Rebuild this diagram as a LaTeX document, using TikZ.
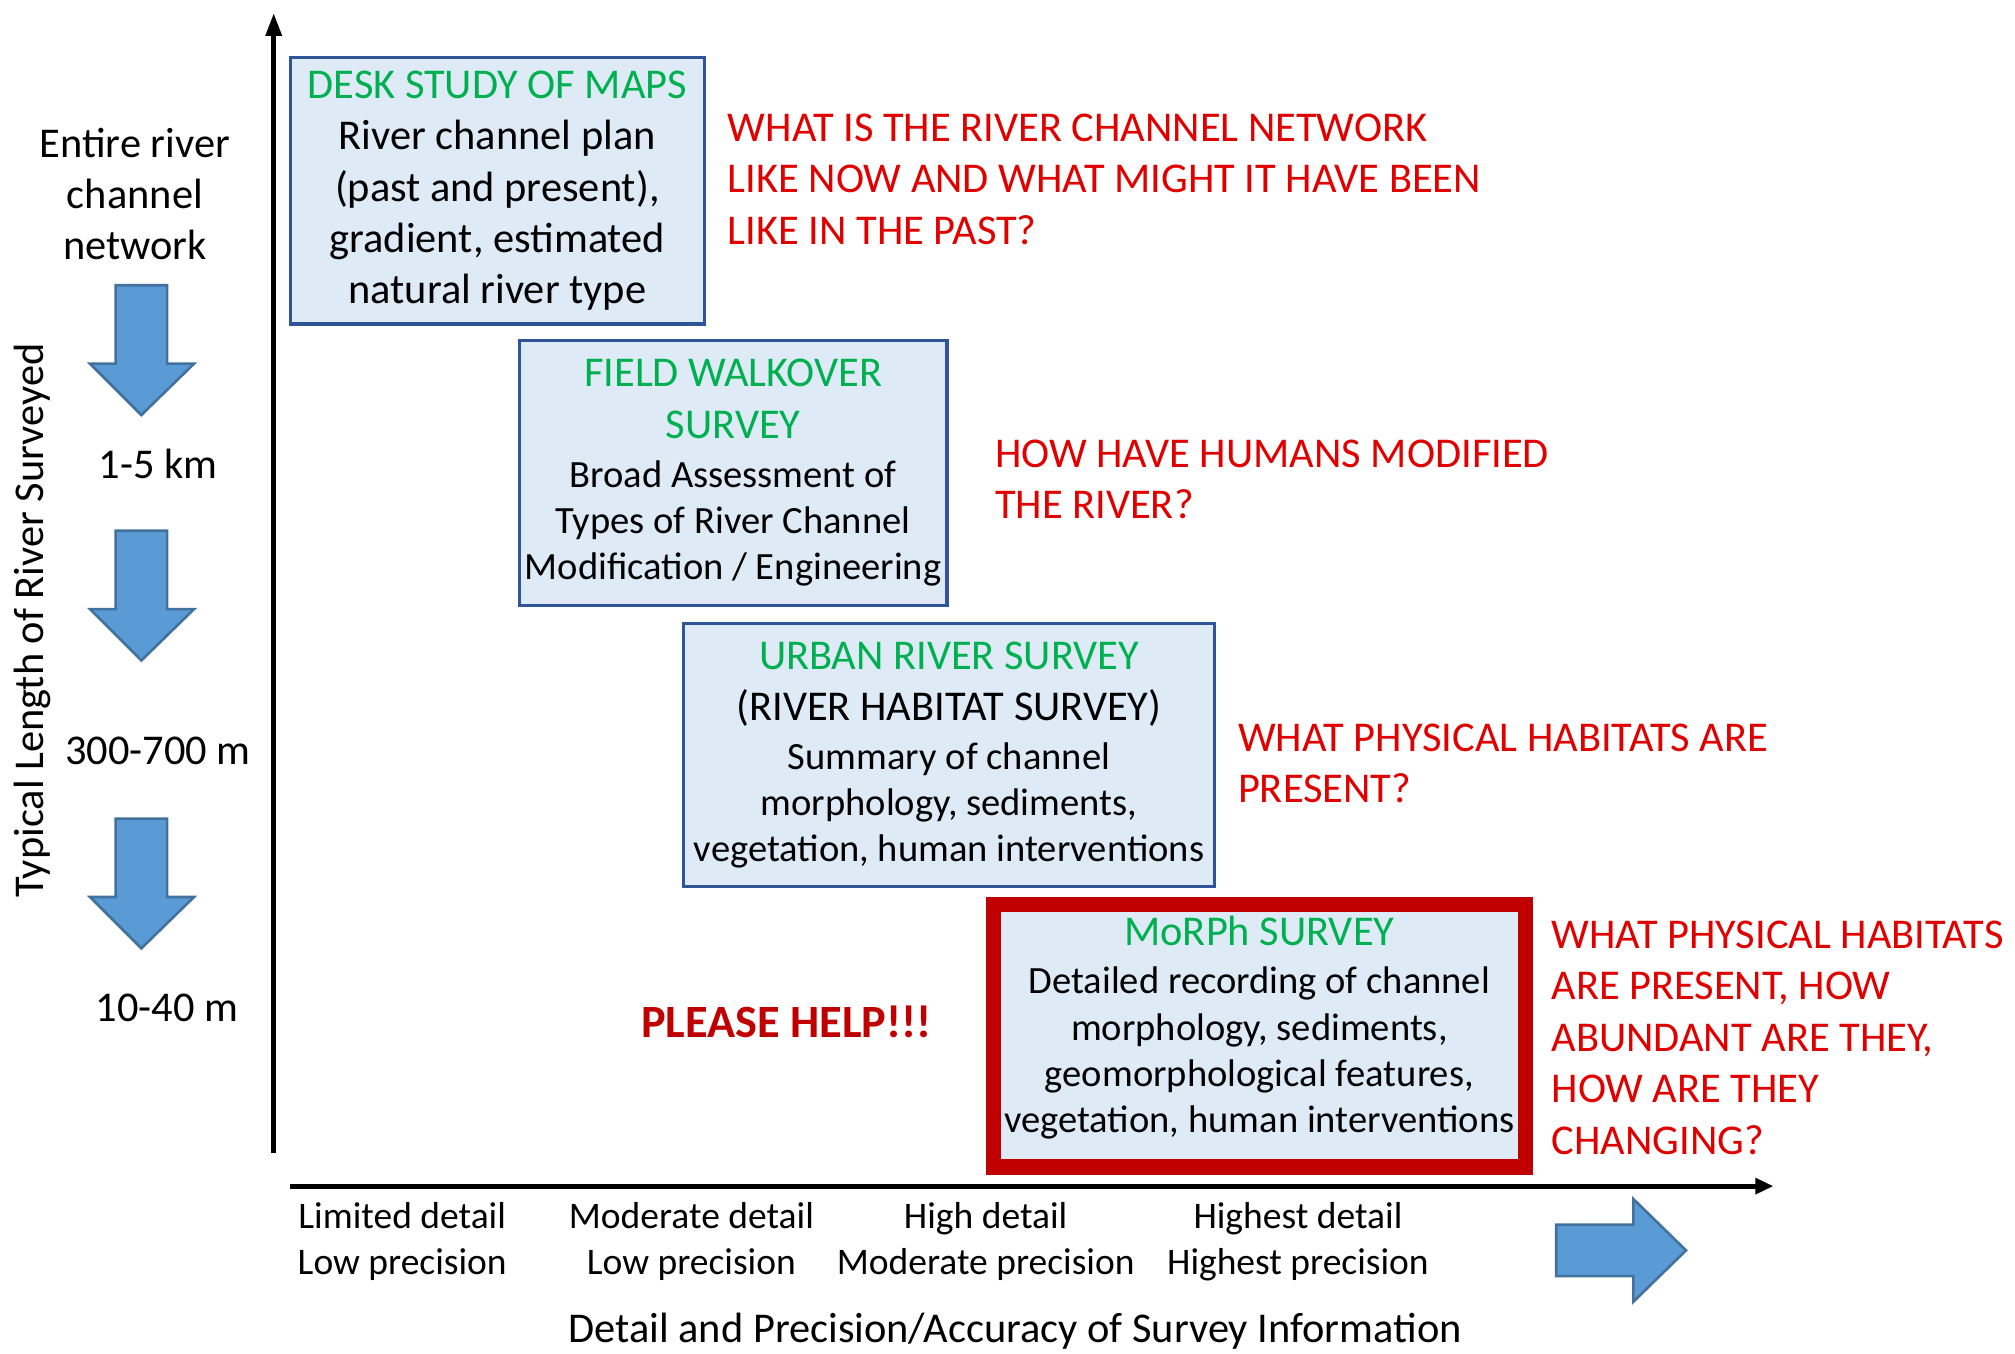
\documentclass[tikz,border=0pt]{standalone}
\usepackage{fontspec}
\setmainfont{Carlito}
\usetikzlibrary{arrows.meta}

\definecolor{boxfill}{RGB}{222,235,247}
\definecolor{boxline}{RGB}{47,85,151}
\definecolor{surveygreen}{RGB}{0,176,80}
\definecolor{askred}{RGB}{224,0,0}
\definecolor{darkred}{RGB}{192,0,0}
\definecolor{arrowfill}{RGB}{91,155,213}
\definecolor{arrowline}{RGB}{65,113,156}

\newcommand{\surveyname}[1]{{\color{surveygreen}\fontsize{16.5}{20}\selectfont #1}}
\newcommand{\bigline}[1]{{\fontsize{16.5}{20}\selectfont #1}}

\tikzset{
  surveybox/.style={draw=boxline, line width=1.3pt, fill=boxfill, align=center, inner sep=0pt},
  question/.style={text=askred, align=left, anchor=west, inner sep=0pt, font=\fontsize{16.5}{20}\selectfont},
  scalelabel/.style={align=center, inner sep=0pt, font=\fontsize{16.5}{20}\selectfont},
  detaillabel/.style={align=center, inner sep=0pt, font=\fontsize{14.6}{18}\selectfont},
  blockarrow/.style={fill=arrowfill, draw=arrowline, line width=1pt, line join=miter},
  axisline/.style={line width=2pt, black},
}

\begin{document}
\begin{tikzpicture}[x=0.5pt,y=-0.5pt]
    \useasboundingbox (0,0) rectangle (1568,1053);

    % axes
    \coordinate (ytop) at (213,10);
    \coordinate (ybot) at (213,897);
    \coordinate (xleft) at (226,923);
    \coordinate (xright) at (1380,923);
    \draw[axisline,-{Triangle[length=9pt,width=6pt]}] (ybot) -- (ytop);
    \draw[axisline,-{Triangle[length=7pt,width=6pt]}] (xleft) -- (xright);

    % survey boxes, coarse to fine
    \node[surveybox, minimum width=161pt, minimum height=103.5pt, font=\fontsize{16.5}{20}\selectfont] (desk) at (387,148.5)
        {\surveyname{DESK STUDY OF MAPS}\\River channel plan\\(past and present),\\gradient, estimated\\natural river type};
    \node[surveybox, minimum width=166.5pt, minimum height=103pt, font=\fontsize{15}{18}\selectfont] (field) at (570.5,368)
        {\surveyname{FIELD WALKOVER}\\[2pt]\surveyname{SURVEY}\\[1pt]Broad Assessment of\\Types of River Channel\\Modification / Engineering};
    \node[surveybox, minimum width=206.5pt, minimum height=102.5pt, font=\fontsize{15}{18}\selectfont] (urban) at (738.5,587.5)
        {\surveyname{URBAN RIVER SURVEY}\\[2pt]\bigline{(RIVER HABITAT SURVEY)}\\[1pt]Summary of channel\\morphology, sediments,\\vegetation, human interventions};
    \node[surveybox, draw=darkred, line width=6pt, minimum width=207pt, minimum height=102pt, font=\fontsize{15}{18}\selectfont] (morph) at (980,806)
        {\surveyname{MoRPh SURVEY}\\[1pt]Detailed recording of channel\\morphology, sediments,\\geomorphological features,\\vegetation, human interventions\\[-9pt]};

    % questions each survey answers
    \node[question] (askdesk) at (566,139.5)
        {WHAT IS THE RIVER CHANNEL NETWORK\\LIKE NOW AND WHAT MIGHT IT HAVE BEEN\\LIKE IN THE PAST?};
    \node[question] (askfield) at (774,373) {HOW HAVE HUMANS MODIFIED\\THE RIVER?};
    \node[question] (askurban) at (963,594) {WHAT PHYSICAL HABITATS ARE\\PRESENT?};
    \node[question] (askmorph) at (1207,807.5)
        {WHAT PHYSICAL HABITATS\\ARE PRESENT, HOW\\ABUNDANT ARE THEY,\\HOW ARE THEY\\CHANGING?};

    \node[text=darkred, inner sep=0pt, font=\fontsize{18}{22}\selectfont\bfseries] (help) at (612,795) {PLEASE HELP!!!};

    % length of river surveyed
    \node[scalelabel] (entire) at (105,151) {Entire river\\channel\\network};
    \node[scalelabel] (km) at (123,361) {1-5 km};
    \node[scalelabel] (hundreds) at (123,584) {300-700 m};
    \node[scalelabel] (tens) at (130,784) {10-40 m};
    \node[scalelabel, rotate=90] (lengthlabel) at (25,483) {Typical Length of River Surveyed};
    \foreach \ya in {222,413,637}{
    \draw[blockarrow] (90,\ya) -- (130,\ya) -- (130,\ya+61) -- (151,\ya+61) -- (110,\ya+101) -- (70,\ya+61) -- (90,\ya+61) -- cycle;
    }

    % detail and precision
    \foreach \xpos/\upper/\lower [count=\i] in {313/Limited detail/Low precision, 538/Moderate detail/Low precision,
                                                767/High detail/Moderate precision, 1010/Highest detail/Highest precision}{
    \node[detaillabel] (detail\i) at (\xpos,966) {\upper\\\lower};
    }
    \draw[blockarrow] (1211,953) -- (1271,953) -- (1271,933) -- (1312,973) -- (1271,1013) -- (1271,993) -- (1211,993) -- cycle;
    \node[scalelabel] (detaillabel) at (790,1036) {Detail and Precision/Accuracy of Survey Information};
\end{tikzpicture}
\end{document}
